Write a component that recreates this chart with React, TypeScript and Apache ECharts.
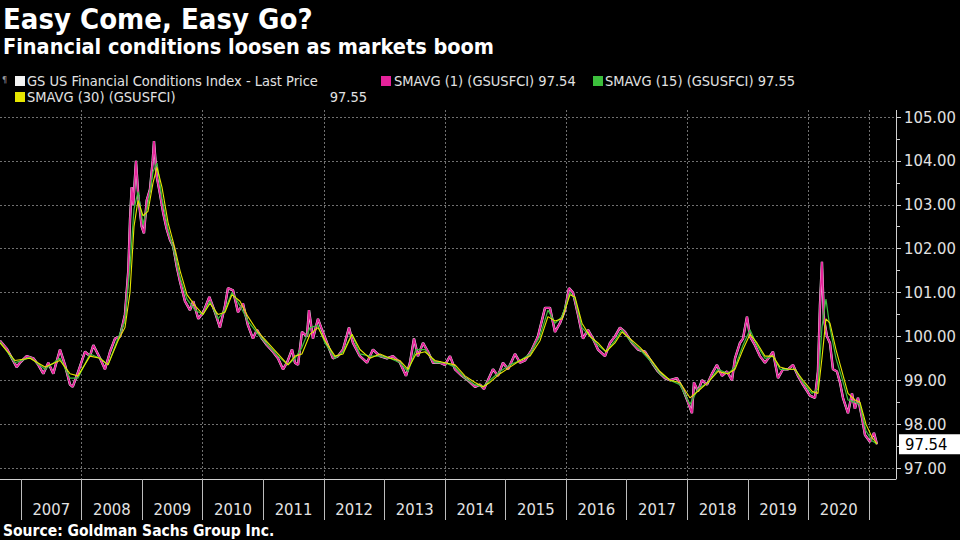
import React, { useEffect, useRef } from "react";
import * as echarts from "echarts";

// Decimal-year dates of the index readings (GS US Financial Conditions Index)
const indexDates = [
  2006.653, 2006.764, 2006.929, 2006.983, 2007.094, 2007.203, 2007.286, 2007.368, 2007.451, 2007.533,
  2007.644, 2007.726, 2007.809, 2007.854, 2007.946, 2008.057, 2008.139, 2008.194, 2008.305, 2008.387,
  2008.47, 2008.552, 2008.635, 2008.717, 2008.772, 2008.8, 2008.828, 2008.854, 2008.899, 2008.937,
  2008.993, 2009.031, 2009.076, 2009.13, 2009.175, 2009.196, 2009.241, 2009.295, 2009.35, 2009.406,
  2009.461, 2009.515, 2009.571, 2009.626, 2009.708, 2009.791, 2009.845, 2009.928, 2010.011, 2010.11,
  2010.204, 2010.286, 2010.369, 2010.418, 2010.501, 2010.584, 2010.666, 2010.749, 2010.831, 2010.897,
  2010.98, 2011.063, 2011.162, 2011.244, 2011.327, 2011.393, 2011.476, 2011.525, 2011.575, 2011.64,
  2011.723, 2011.756, 2011.822, 2011.905, 2011.971, 2012.054, 2012.152, 2012.235, 2012.318, 2012.417,
  2012.483, 2012.598, 2012.714, 2012.813, 2012.929, 2013.044, 2013.143, 2013.259, 2013.358, 2013.424,
  2013.49, 2013.556, 2013.639, 2013.722, 2013.804, 2013.92, 2014.002, 2014.085, 2014.168, 2014.283,
  2014.382, 2014.498, 2014.58, 2014.646, 2014.712, 2014.795, 2014.877, 2014.96, 2015.043, 2015.158,
  2015.241, 2015.323, 2015.439, 2015.538, 2015.654, 2015.736, 2015.819, 2015.901, 2015.984, 2016.05,
  2016.116, 2016.199, 2016.281, 2016.364, 2016.446, 2016.529, 2016.645, 2016.727, 2016.81, 2016.892,
  2016.975, 2017.091, 2017.19, 2017.305, 2017.421, 2017.52, 2017.635, 2017.718, 2017.834, 2017.932,
  2018.015, 2018.081, 2018.114, 2018.18, 2018.247, 2018.329, 2018.412, 2018.494, 2018.577, 2018.66,
  2018.742, 2018.792, 2018.874, 2018.924, 2018.99, 2019.039, 2019.122, 2019.204, 2019.287, 2019.37,
  2019.419, 2019.502, 2019.584, 2019.667, 2019.75, 2019.832, 2019.915, 2020.03, 2020.113, 2020.162,
  2020.195, 2020.228, 2020.261, 2020.311, 2020.36, 2020.41, 2020.476, 2020.526, 2020.575, 2020.658,
  2020.724, 2020.773, 2020.823, 2020.889, 2020.939, 2021.021, 2021.087, 2021.137,
];

// Last price (= SMAVG(1))
const lastPrice = [
  99.9, 99.72, 99.3, 99.4, 99.55, 99.5, 99.35, 99.15, 99.4, 99.15,
  99.7, 99.35, 98.9, 98.85, 99.2, 99.65, 99.55, 99.8, 99.5, 99.25,
  99.65, 99.95, 100.0, 100.5, 101.5, 102.65, 103.4, 103.0, 104.0, 103.2,
  102.5, 102.35, 103.1, 103.35, 104.0, 104.45, 103.65, 103.25, 102.8, 102.45,
  102.2, 102.05, 101.6, 101.25, 100.8, 100.6, 100.8, 100.4, 100.55, 100.9,
  100.55, 100.2, 100.7, 101.1, 101.05, 100.55, 100.75, 100.25, 99.95, 100.15,
  99.95, 99.8, 99.65, 99.5, 99.25, 99.4, 99.7, 99.4, 99.35, 100.1,
  100.0, 100.6, 99.95, 100.4, 100.15, 99.85, 99.5, 99.55, 99.7, 100.2,
  99.85, 99.55, 99.4, 99.7, 99.55, 99.5, 99.55, 99.4, 99.1, 99.4,
  99.95, 99.55, 99.85, 99.65, 99.4, 99.4, 99.35, 99.55, 99.25, 99.1,
  99.0, 98.85, 98.9, 98.8, 99.0, 99.25, 99.1, 99.4, 99.25, 99.6,
  99.4, 99.45, 99.7, 100.0, 100.65, 100.65, 100.1, 100.3, 100.6, 101.1,
  101.0, 100.5, 99.95, 100.15, 99.95, 99.7, 99.55, 99.85, 100.0, 100.2,
  100.1, 99.85, 99.7, 99.65, 99.4, 99.2, 99.05, 99.0, 99.05, 98.8,
  98.5, 98.25, 98.95, 98.75, 99.0, 98.9, 99.15, 99.35, 99.1, 99.2,
  99.0, 99.5, 99.85, 99.95, 100.45, 100.0, 99.8, 99.55, 99.4, 99.55,
  99.65, 99.05, 99.25, 99.25, 99.35, 99.1, 98.9, 98.65, 98.6, 99.2,
  100.7, 101.7, 100.4, 100.0, 99.85, 99.25, 99.2, 98.95, 98.6, 98.25,
  98.7, 98.35, 98.6, 98.15, 97.75, 97.6, 97.8, 97.54,
];

// Dates of the moving-average readings
const smaDates = [
  2006.653, 2006.901, 2007.148, 2007.396, 2007.644, 2007.809, 2007.941, 2008.139, 2008.305, 2008.437,
  2008.602, 2008.717, 2008.8, 2008.866, 2008.932, 2009.015, 2009.097, 2009.18, 2009.246, 2009.328,
  2009.428, 2009.543, 2009.626, 2009.741, 2009.873, 2010.005, 2010.121, 2010.253, 2010.369, 2010.484,
  2010.617, 2010.749, 2010.914, 2011.079, 2011.244, 2011.409, 2011.525, 2011.64, 2011.773, 2011.905,
  2012.02, 2012.186, 2012.318, 2012.466, 2012.598, 2012.764, 2012.929, 2013.094, 2013.259, 2013.391,
  2013.523, 2013.672, 2013.837, 2014.002, 2014.168, 2014.332, 2014.498, 2014.63, 2014.745, 2014.911,
  2015.076, 2015.241, 2015.406, 2015.571, 2015.703, 2015.819, 2015.935, 2016.067, 2016.149, 2016.265,
  2016.397, 2016.529, 2016.661, 2016.81, 2016.925, 2017.058, 2017.223, 2017.388, 2017.553, 2017.718,
  2017.883, 2018.048, 2018.18, 2018.346, 2018.511, 2018.676, 2018.792, 2018.924, 2019.039, 2019.155,
  2019.287, 2019.419, 2019.535, 2019.667, 2019.782, 2019.915, 2020.063, 2020.162, 2020.228, 2020.294,
  2020.36, 2020.46, 2020.559, 2020.658, 2020.773, 2020.856, 2020.955, 2021.054, 2021.137,
];

// SMAVG (15)
const sma15 = [
  99.88, 99.4, 99.52, 99.25, 99.5, 99.05, 99.05, 99.6, 99.5, 99.35,
  99.95, 100.35, 101.6, 102.9, 103.3, 102.55, 103.0, 103.75, 103.95, 103.15,
  102.45, 101.85, 101.35, 100.85, 100.6, 100.5, 100.8, 100.4, 100.6, 101.0,
  100.7, 100.35, 100.05, 99.8, 99.55, 99.35, 99.5, 99.75, 100.2, 100.25,
  99.85, 99.5, 99.65, 100.05, 99.6, 99.55, 99.55, 99.5, 99.4, 99.2,
  99.7, 99.7, 99.4, 99.4, 99.3, 99.05, 98.9, 98.85, 99.0, 99.2,
  99.35, 99.45, 99.6, 100.0, 100.6, 100.3, 100.45, 101.0, 100.85, 100.2,
  100.0, 99.8, 99.65, 99.9, 100.15, 99.9, 99.7, 99.45, 99.15, 99.0,
  98.9, 98.45, 98.8, 98.95, 99.25, 99.15, 99.3, 99.8, 100.15, 99.8,
  99.5, 99.55, 99.25, 99.25, 99.25, 98.95, 98.7, 98.8, 100.2, 100.85,
  100.2, 99.5, 99.05, 98.55, 98.5, 98.45, 97.85, 97.62, 97.55,
];

// SMAVG (30)
const sma30 = [
  99.85, 99.45, 99.5, 99.3, 99.45, 99.15, 99.1, 99.55, 99.5, 99.35,
  99.9, 100.2, 101.0, 102.5, 103.1, 102.75, 102.85, 103.5, 103.85, 103.4,
  102.6, 102.0, 101.5, 100.95, 100.7, 100.5, 100.75, 100.5, 100.55, 100.95,
  100.8, 100.45, 100.1, 99.85, 99.6, 99.35, 99.55, 99.6, 100.05, 100.2,
  99.9, 99.55, 99.6, 100.05, 99.7, 99.5, 99.6, 99.5, 99.45, 99.25,
  99.6, 99.65, 99.45, 99.4, 99.35, 99.1, 98.95, 98.85, 98.95, 99.15,
  99.3, 99.45, 99.55, 99.9, 100.45, 100.35, 100.4, 100.95, 100.9, 100.3,
  100.0, 99.85, 99.65, 99.85, 100.1, 99.95, 99.75, 99.5, 99.2, 99.0,
  98.95, 98.6, 98.75, 98.95, 99.2, 99.15, 99.25, 99.7, 100.05, 99.85,
  99.55, 99.55, 99.3, 99.25, 99.25, 99.0, 98.75, 98.7, 99.5, 100.4,
  100.3, 99.7, 99.2, 98.7, 98.55, 98.5, 98.0, 97.7, 97.55,
];

const yearLabels = [
  "2007", "2008", "2009", "2010", "2011", "2012", "2013",
  "2014", "2015", "2016", "2017", "2018", "2019", "2020",
];

const seriesNames = [
  "GS US Financial Conditions Index - Last Price",
  "SMAVG (1) (GSUSFCI)",
  "SMAVG (15) (GSUSFCI)",
  "SMAVG (30) (GSUSFCI)",
];
const lastValues = ["97.54", "97.54", "97.55", "97.55"];
const lastIndexValue = 97.54;

const X_MIN = 2006.653;
const X_MAX = 2021.451;
const Y_MIN = 97;
const Y_MAX = 105;

const FONT = '"DejaVu Sans Condensed", "DejaVu Sans", sans-serif';
const TXT = "#e2e2e2";
const COLORS = ["#f4f4f4", "#e5229a", "#3cbf3c", "#e6e600"];

export default function App() {
  const ref = useRef<HTMLDivElement>(null);

  useEffect(() => {
    if (!ref.current) return;
    const chart = echarts.init(ref.current, null, { renderer: "svg" });

    const pts = (xs: number[], ys: number[]) => xs.map((x, i) => [x, ys[i]]);

    const legendText = (x: number, y: number, text: string, align = "left") => ({
      type: "text",
      x,
      y,
      style: {
        text,
        fill: TXT,
        font: `14.5px ${FONT}`,
        textAlign: align,
        textVerticalAlign: "middle",
      },
    });
    const legendBox = (x: number, y: number, color: string) => ({
      type: "rect",
      shape: { x, y, width: 10, height: 10 },
      style: { fill: color },
    });

    const option: any = {
      animation: false,
      backgroundColor: "#000",
      grid: [
        { left: 0, right: 64, top: 117, bottom: 72 },
        { left: 21, right: 91, top: 110, bottom: 61 },
      ],
      xAxis: [
        {
          type: "value",
          gridIndex: 0,
          min: X_MIN,
          max: X_MAX,
          offset: 11,
          axisLine: { show: true, lineStyle: { color: "#d0d0d0", width: 1 } },
          axisTick: { show: false },
          axisLabel: { show: false },
          splitLine: { show: false },
        },
        {
          type: "category",
          gridIndex: 1,
          data: yearLabels,
          boundaryGap: true,
          axisLine: { show: false },
          axisTick: { show: true, interval: 0, length: 41, lineStyle: { color: "#bdbdbd", width: 1 } },
          axisLabel: { interval: 0, color: TXT, fontSize: 16.5, fontFamily: FONT, margin: 22 },
          splitLine: {
            show: true,
            interval: (i: number) => i % 2 === 1,
            lineStyle: { color: "#707070", type: [2, 2], width: 1 },
          },
        },
      ],
      yAxis: [
        {
          type: "value",
          gridIndex: 0,
          position: "right",
          min: Y_MIN,
          max: Y_MAX,
          interval: 1,
          axisLine: { show: false },
          axisTick: { show: true, length: 5, lineStyle: { color: "#d0d0d0" } },
          minorTick: { show: true, splitNumber: 2, length: 4, lineStyle: { color: "#d0d0d0" } },
          axisLabel: {
            color: TXT,
            fontSize: 16.5,
            fontFamily: FONT,
            margin: 8,
            formatter: (v: number) => v.toFixed(2),
          },
          splitLine: { show: true, lineStyle: { color: "#707070", type: [2, 2], width: 1 } },
        },
        {
          type: "value",
          gridIndex: 1,
          min: 0,
          max: 1,
          show: false,
        },
      ],
      series: [
        {
          name: seriesNames[0],
          type: "line",
          xAxisIndex: 0,
          yAxisIndex: 0,
          data: pts(indexDates, lastPrice),
          showSymbol: false,
          lineStyle: { color: COLORS[0], width: 2.4 },
          z: 2,
        },
        {
          name: seriesNames[1],
          type: "line",
          xAxisIndex: 0,
          yAxisIndex: 0,
          data: pts(indexDates, lastPrice),
          showSymbol: false,
          lineStyle: { color: COLORS[1], width: 1.7 },
          z: 3,
          markLine: {
            silent: true,
            symbol: ["none", "none"],
            animation: false,
            lineStyle: { color: "rgba(0,0,0,0)", width: 1, type: "solid" },
            data: [{ yAxis: lastIndexValue }],
            label: {
              show: true,
              position: "end",
              distance: 3,
              formatter: () => lastIndexValue.toFixed(2),
              backgroundColor: "#ffffff",
              color: "#000000",
              fontSize: 16.5,
              fontFamily: FONT,
              padding: [2, 14, 1, 6],
            },
          },
        },
        {
          name: seriesNames[2],
          type: "line",
          xAxisIndex: 0,
          yAxisIndex: 0,
          data: pts(smaDates, sma15),
          showSymbol: false,
          lineStyle: { color: COLORS[2], width: 1.2 },
          z: 4,
        },
        {
          name: seriesNames[3],
          type: "line",
          xAxisIndex: 0,
          yAxisIndex: 0,
          data: pts(smaDates, sma30),
          showSymbol: false,
          lineStyle: { color: COLORS[3], width: 1.1 },
          z: 5,
        },
      ],
      graphic: [
        {
          type: "line",
          shape: { x1: 896.5, y1: 110, x2: 896.5, y2: 479 },
          style: { stroke: "#d0d0d0", lineWidth: 1 },
        },
        {
          type: "text",
          x: 3,
          y: 19,
          style: {
            text: "Easy Come, Easy Go?",
            fill: "#ffffff",
            font: `bold 29px ${FONT}`,
            textVerticalAlign: "middle",
          },
        },
        {
          type: "text",
          x: 3,
          y: 46,
          style: {
            text: "Financial conditions loosen as markets boom",
            fill: "#ffffff",
            font: `bold 21.5px ${FONT}`,
            textVerticalAlign: "middle",
          },
        },
        {
          type: "text",
          x: 2,
          y: 80,
          style: { text: "¶", fill: "#9a9a9a", font: `9px ${FONT}`, textVerticalAlign: "middle" },
        },
        legendBox(15, 76, COLORS[0]),
        legendText(27, 81, seriesNames[0]),
        legendBox(381, 76, COLORS[1]),
        legendText(394, 81, `${seriesNames[1]} ${lastValues[1]}`),
        legendBox(593, 76, COLORS[2]),
        legendText(605, 81, `${seriesNames[2]} ${lastValues[2]}`),
        legendBox(15, 92, COLORS[3]),
        legendText(27, 97, seriesNames[3]),
        legendText(367, 97, lastValues[3], "right"),
        {
          type: "text",
          x: 3,
          y: 530.5,
          style: {
            text: "Source: Goldman Sachs Group Inc.",
            fill: "#ffffff",
            font: `bold 15.5px ${FONT}`,
            textVerticalAlign: "middle",
          },
        },
      ],
    };

    chart.setOption(option);
    return () => chart.dispose();
  }, []);

  return (
    <div
      ref={ref}
      style={{ position: "absolute", left: 0, top: 0, width: 960, height: 540, background: "#000" }}
    />
  );
}
